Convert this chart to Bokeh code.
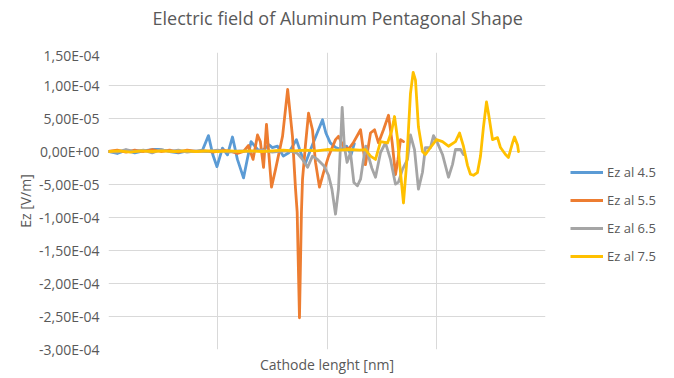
from bokeh.plotting import figure
from bokeh.layouts import row, column
from bokeh.models import Range1d, FixedTicker, Legend, LegendItem, Title
from bokeh.embed import file_html
from bokeh.resources import INLINE

# Ez values are given in units of 1e-5 V/m
x_45 = [0, 8, 16, 24, 32, 40, 48, 56, 64, 72, 80, 86, 91.5, 95.5, 99.3, 104.3, 108.9, 113.5, 118,
        123.6, 127, 130.5, 133, 137, 142, 147, 150, 154.7, 160, 165, 172, 176, 180, 185, 191,
        195.9, 199, 203, 208, 213, 218, 222, 225]
ez_45 = [0, -0.3, 0.2, -0.2, 0.1, 0.3, 0.3, 0, -0.2, 0.1, 0, 0.2, 2.4, -0.5, -2.3, 0.5, -0.5, 2.2, -1.2,
         -4.0, -1.2, 1.5, 1.0, 0.2, 0.3, 1.0, 0.6, 0.8, -0.7, -0.2, 1.8, -0.2, -1.9, 0.3, 2.8,
         4.8, 2.8, 1.3, 0.6, 0.3, 0.8, -0.5, 1.2]

x_55 = [0, 8, 16, 24, 32, 40, 48, 56, 64, 72, 80, 88, 96, 104, 112, 118, 123.6, 128, 132.3, 136.4,
        139, 141.9, 144.6, 149.2, 152.9, 159.3, 164, 168.4, 171.2, 172.7, 174.8, 176.6, 177.6,
        180.3, 183.1, 186.7, 189.5, 193.1, 196.8, 201.4, 207.8, 210.5, 215, 219.5, 224, 230.7,
        235.2, 239.8, 243.5, 247.1, 251.7, 256.3, 259.7, 262.7, 265, 267.3, 270]
ez_55 = [0, 0.2, -0.1, 0.2, 0, 0.3, 0, 0.2, -0.1, 0.2, 0, 0.1, -0.1, 0.2, 0, -0.3, 0, 0.9, -1.2, 2.5,
         1.5, -2.4, 4.1, -5.4, -2.7, 2.3, 9.4, 2.3, -5.7, -9.2, -25.2, -9.2, -4.2,
         1.0, 5.8, 3.3, -1.65, -5.4, -3.2, -0.75, 1.8, 2.3, 0.8, 0.3, 1.3, 3.3,
         -2.0, 2.8, 3.3, 1.3, 3.3, 5.5, 1.3, -3.5, -1.2, 1.8, 1.5]

x_65 = [0, 8, 16, 24, 32, 40, 48, 56, 64, 72, 80, 90, 100, 110, 120, 130, 140, 150, 160, 168, 173,
        177.6, 182.2, 186.7, 191.3, 197.3, 201.4, 204.5, 207.8, 210.5, 212.3, 213.9, 215.9, 218.4,
        221.5, 224.6, 227.8, 230.7, 233.4, 235.5, 238, 241, 244.4, 249, 253.5, 258.1, 262.7, 265.4,
        269.1, 273.7, 276.4, 280.1, 283.7, 287.4, 290.1, 294.7, 297.5, 301.1, 305.7, 311.2, 314.9,
        317.6, 322.2, 324.9]
ez_65 = [0, -0.1, 0.3, 0, 0.2, -0.2, 0.3, 0, 0.2, -0.1, 0.1, 0, 0.2, -0.1, 0.1, 0, 0.2, -0.1, 0.1, 0, -0.3,
         -1.2, -2.4, -0.7, -1.2, -2.2, -3.6, -5.7, -9.5, -5.7, 0.75, 6.7, 0.75, -1.65,
         -0.2, -4.7, -5.2, -4.2, -1.2, 0.8, -0.75, -2.5, -3.9, -0.15, 1.3, -1.2, -4.95, -4.65,
         -2.7, -1.2, 2.5, 0.3, -5.7, -3.15, 0.6, 0.6, 2.4, 1.3, -0.45, -3.9, -1.95,
         0.3, 0.3, -0.45]

x_75 = [0, 10, 20, 30, 40, 50, 60, 70, 80, 90, 100, 110, 120, 130, 140, 150, 160, 170, 180, 190, 200,
        210, 220, 230, 235.2, 239.8, 244.4, 249, 255.4, 259, 261.8, 264.5, 266.3, 270, 272.8,
        276.4, 278.9, 281, 283.7, 287.4, 290.1, 294.7, 300.2, 305.7, 311.2, 317.6, 321.3, 324.9,
        328.6, 331.3, 334.1, 337.7, 340.5, 343.2, 346, 347.8, 351.5, 356.1, 358.8, 363.4, 366.1,
        369.8, 371.6, 374.4, 375.3]
ez_75 = [0, 0.1, -0.1, 0.1, 0, 0.1, 0, 0.1, 0, 0.1, 0, 0.1, 0, 0.1, 0, 0.1, 0.2, 0.1, 0.2, 0.1, 0.3,
         0.2, 0.3, 0.2, 0.3, -0.7, -1.2, 1.5, 1.3, 3.0, 5.3, 2.0, -1.5, -7.8, -2.0,
         8.8, 12.0, 10.8, 3.7, 0, -0.45, 0.6, 1.8, 1.5, 0.8, 1.5, 2.8, 0.8,
         -2.1, -3.45, -3.6, -3.2, -0.7, 3.7, 7.5, 5.8, 1.8, 2.1, 0.6, -0.45, -0.9,
         1.3, 2.2, 1.0, 0]

series_names = ["Ez al 4.5", "Ez al 5.5", "Ez al 6.5", "Ez al 7.5"]
series_colors = ["#5B9BD5", "#ED7D31", "#A5A5A5", "#FFC000"]

y_ticks = [15, 10, 5, 0, -5, -10, -15, -20, -25, -30]
y_tick_labels = ["1,50E-04", "1,00E-04", "5,00E-05", "0,00E+00", "-5,00E-05",
                 "-1,00E-04", "-1,50E-04", "-2,00E-04", "-2,50E-04", "-3,00E-04"]
x_grid = [0, 100, 200, 300, 400]

FONT = "Open Sans"
TXT = "#595959"
GRID = "#D9D9D9"
W = 674
H = 376
HT = 45  # height of the title strip

# title strip
pt = figure(width=W, height=HT, output_backend="svg", toolbar_location=None,
            x_axis_type=None, y_axis_type=None, min_border=0,
            x_range=Range1d(0, 1), y_range=Range1d(0, 1))
pt.outline_line_color = None
pt.title.text = "Electric field of Aluminum Pentagonal Shape"
pt.title.align = "left"
pt.title.vertical_align = "top"
pt.title.text_font = FONT
pt.title.text_font_size = "18px"
pt.title.text_font_style = "normal"
pt.title.text_color = TXT
pt.title.offset = 152
pt.title.standoff = 11

# main chart
p = figure(width=546, height=H - HT, output_backend="svg", toolbar_location=None,
           x_range=Range1d(0, 400), y_range=Range1d(-30, 15),
           min_border_left=108, min_border_right=1, min_border_top=52 - HT, min_border_bottom=24)
p.outline_line_color = None
p.background_fill_color = "white"
p.border_fill_color = "white"

# y axis
ya = p.yaxis[0]
ya.ticker = FixedTicker(ticks=y_ticks)
ya.major_label_overrides = {t: l for t, l in zip(y_ticks, y_tick_labels)}
ya.axis_line_color = None
ya.major_tick_line_color = None
ya.minor_tick_line_color = None
ya.major_tick_out = 0
ya.major_tick_in = 0
ya.major_label_standoff = 9
ya.major_label_text_font = FONT
ya.major_label_text_font_size = "14px"
ya.major_label_text_color = TXT
p.add_layout(Title(text="Ez [V/m]", align="center", text_font=FONT,
                   text_font_size="14px", text_font_style="normal", text_color=TXT,
                   standoff=4), "left")

# x axis
xa = p.xaxis[0]
xa.ticker = FixedTicker(ticks=[])
xa.axis_line_color = None
xa.major_tick_line_color = None
xa.minor_tick_line_color = None
xa.major_tick_out = 0
xa.major_tick_in = 0
xa.axis_label = "Cathode lenght [nm]"
xa.axis_label_standoff = 5
xa.axis_label_text_font = FONT
xa.axis_label_text_font_size = "14px"
xa.axis_label_text_font_style = "normal"
xa.axis_label_text_color = TXT

p.xgrid.ticker = FixedTicker(ticks=x_grid)
p.ygrid.ticker = FixedTicker(ticks=y_ticks)
p.xgrid.grid_line_color = GRID
p.ygrid.grid_line_color = GRID

# legend panel as a narrow companion figure
pl = figure(width=W - 546, height=H - HT, output_backend="svg", toolbar_location=None,
            x_axis_type=None, y_axis_type=None, min_border=0,
            x_range=Range1d(0, 1), y_range=Range1d(0, 1))
pl.outline_line_color = None

items = []
for xs, ys, name, col in zip([x_45, x_55, x_65, x_75], [ez_45, ez_55, ez_65, ez_75],
                             series_names, series_colors):
    p.line(xs, ys, line_color=col, line_width=2.8, line_join="round", line_cap="round")
    # single-point key renderer: draws nothing in the panel, only feeds the legend swatch
    r = pl.line(xs[:1], ys[:1], line_color=col, line_width=2.8)
    items.append(LegendItem(label=name, renderers=[r]))

legend = Legend(items=items, location=(24, 83), glyph_width=33, glyph_height=20,
                label_standoff=4, spacing=8, padding=4, border_line_color=None,
                background_fill_alpha=0, label_text_font=FONT, label_text_font_size="13px",
                label_text_color=TXT)
pl.add_layout(legend, "center")

layout = column(pt, row(p, pl))
open("out.html", "w").write(file_html(layout, INLINE))
